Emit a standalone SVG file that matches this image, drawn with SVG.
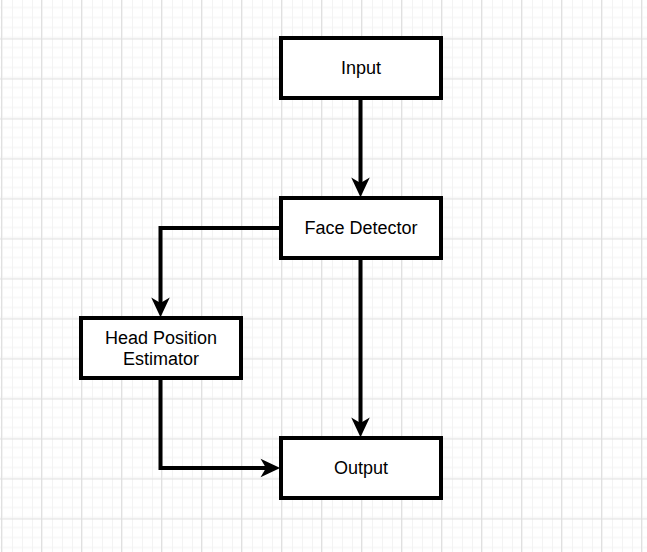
<svg xmlns="http://www.w3.org/2000/svg" width="647" height="552" viewBox="0 0 647 552">
  <defs>
    <pattern id="minor" width="10" height="10" patternUnits="userSpaceOnUse" x="1" y="-1.5">
      <path d="M0.5 0 V10 M0 0.5 H10" fill="none" stroke="#f3f3f3" stroke-width="1"/>
    </pattern>
    <pattern id="major" width="40" height="40" patternUnits="userSpaceOnUse" x="1" y="-1.5">
      <rect width="40" height="40" fill="url(#minor)"/>
      <path d="M0.5 0 V40 M0 0.5 H40" fill="none" stroke="#e0e0e0" stroke-width="1"/>
    </pattern>
    <marker id="arrow" markerUnits="userSpaceOnUse" markerWidth="24" markerHeight="24" refX="-13" refY="0" viewBox="-20 -10 22 20" orient="auto" overflow="visible">
      <path d="M0 0 L-18 -8.5 L-13 0 L-18 8.5 Z" fill="#000"/>
    </marker>
  </defs>
  <style>
    .box { fill: #fff; stroke: #000; stroke-width: 4; }
    .lbl { font-family: "Liberation Sans", Arial, sans-serif; font-size: 18px; fill: #000; text-anchor: middle; }
    .edge { fill: none; stroke: #000; stroke-width: 4; stroke-linejoin: miter; }
  </style>
  <rect width="647" height="552" fill="#fff"/>
  <rect width="647" height="552" fill="url(#major)"/>

  <g id="connectors">
    <path class="edge" d="M360.5 98 V183" marker-end="url(#arrow)"/>
    <path class="edge" d="M281 228 H160.5 V303" marker-end="url(#arrow)"/>
    <path class="edge" d="M360.5 258 V423" marker-end="url(#arrow)"/>
    <path class="edge" d="M160.5 378 V468 H266" marker-end="url(#arrow)"/>
  </g>

  <g id="input">
    <rect class="box" x="281" y="38" width="160" height="60"/>
    <text class="lbl" x="361" y="74">Input</text>
  </g>
  <g id="face-detector">
    <rect class="box" x="281" y="198" width="160" height="60"/>
    <text class="lbl" x="361" y="234">Face Detector</text>
  </g>
  <g id="head-position-estimator">
    <rect class="box" x="81" y="318" width="160" height="60"/>
    <text class="lbl" x="161" y="343.5">Head Position</text>
    <text class="lbl" x="161" y="364.5">Estimator</text>
  </g>
  <g id="output">
    <rect class="box" x="281" y="438" width="160" height="60"/>
    <text class="lbl" x="361" y="474">Output</text>
  </g>
</svg>
